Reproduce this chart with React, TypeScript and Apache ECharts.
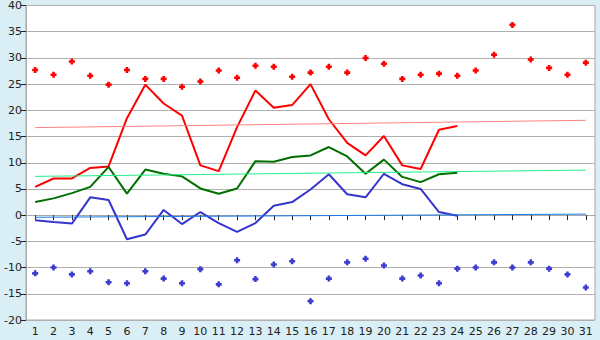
import React, { useEffect, useRef } from "react";
import * as echarts from "echarts";

const days = Array.from({ length: 31 }, (_, i) => String(i + 1));

const maxTemp = [5.4, 7.0, 7.0, 9.0, 9.3, 18.5, 24.9, 21.3, 19.0, 9.5, 8.4, 16.8, 23.8, 20.5, 21.0, 25.0, 18.3, 13.8, 11.4, 15.1, 9.5, 8.8, 16.3, 17.0];
const meanTemp = [2.5, 3.2, 4.2, 5.4, 9.2, 4.1, 8.7, 7.9, 7.4, 5.1, 4.1, 5.1, 10.3, 10.2, 11.1, 11.4, 13.0, 11.2, 7.9, 10.6, 7.3, 6.3, 7.8, 8.1];
const minTemp = [-0.95, -1.3, -1.6, 3.4, 2.9, -4.6, -3.7, 1.0, -1.7, 0.6, -1.5, -3.2, -1.5, 1.8, 2.5, 4.9, 7.8, 4.0, 3.4, 7.9, 5.9, 5.0, 0.6, -0.1];

const recordMax = [27.7, 26.8, 29.3, 26.6, 24.9, 27.7, 26.0, 26.0, 24.5, 25.5, 27.6, 26.2, 28.5, 28.3, 26.4, 27.2, 28.3, 27.2, 30.0, 28.9, 26.0, 26.8, 27.0, 26.6, 27.6, 30.6, 36.3, 29.7, 28.1, 26.8, 29.1];
const recordMin = [-11.1, -10.0, -11.3, -10.7, -12.8, -13.0, -10.7, -12.1, -13.0, -10.3, -13.2, -8.6, -12.2, -9.4, -8.8, -16.4, -12.1, -9.0, -8.3, -9.6, -12.1, -11.5, -13.0, -10.2, -10.0, -9.0, -10.0, -9.0, -10.2, -11.3, -13.8];

const maxTrend = [16.7, 18.1];
const meanTrend = [7.4, 8.6];
const minTrend = [-0.4, 0.2];

const yTicks = { min: -20, max: 40, interval: 5 };

const plus = "path://M2,0H5V2H7V5H5V7H2V5H0V2H2Z";

function trend(vals: number[], color: string) {
  return {
    silent: true,
    symbol: "none",
    label: { show: false },
    lineStyle: { color, width: 1, type: "solid" },
    emphasis: { disabled: true },
    data: [[{ coord: [days[0], vals[0]] }, { coord: [days[days.length - 1], vals[1]] }]],
  };
}

export default function App() {
  const ref = useRef<HTMLDivElement>(null);
  useEffect(() => {
    const chart = echarts.init(ref.current!, null, { renderer: "svg" });
    const font = { fontFamily: "DejaVu Sans", fontSize: 11, color: "#222" };
    chart.setOption({
      animation: false,
      backgroundColor: "#daeef5",
      grid: {
        left: 26,
        right: 5,
        top: 5,
        bottom: 20,
        show: true,
        backgroundColor: "#ffffff",
        borderColor: "#a8a8a8",
        borderWidth: 1,
      },
      xAxis: {
        type: "category",
        data: days,
        boundaryGap: true,
        axisLine: { show: true, lineStyle: { color: "#a8a8a8" } },
        axisTick: { show: true, alignWithLabel: true, length: 5, lineStyle: { color: "#222" } },
        axisLabel: { ...font, margin: 6, interval: 0 },
        splitLine: { show: false },
      },
      yAxis: {
        type: "value",
        min: yTicks.min,
        max: yTicks.max,
        interval: yTicks.interval,
        axisLine: { show: true, lineStyle: { color: "#a8a8a8" } },
        axisTick: { show: true, length: 5, lineStyle: { color: "#222" } },
        axisLabel: { ...font, margin: 4 },
        splitLine: { show: true, lineStyle: { color: "#b0b0b0", width: 1 } },
      },
      series: [
        { type: "line", data: [], markLine: trend(maxTrend, "#ff8080") },
        { type: "line", data: [], markLine: trend(meanTrend, "#22ee88") },
        { type: "line", data: [], markLine: trend(minTrend, "#1a7ae6") },
        {
          type: "line",
          data: maxTemp,
          symbol: "none",
          lineStyle: { color: "#ff0000", width: 2 },
          itemStyle: { color: "#ff0000" },
        },
        {
          type: "line",
          data: meanTemp,
          symbol: "none",
          lineStyle: { color: "#006e00", width: 2 },
          itemStyle: { color: "#006e00" },
        },
        {
          type: "line",
          data: minTemp,
          symbol: "none",
          lineStyle: { color: "#3535cc", width: 2 },
          itemStyle: { color: "#3535cc" },
        },
        {
          type: "scatter",
          data: recordMax,
          symbol: plus,
          symbolSize: 6,
          itemStyle: { color: "#ff0000", opacity: 1 },
        },
        {
          type: "scatter",
          data: recordMin,
          symbol: plus,
          symbolSize: 6,
          itemStyle: { color: "#3c3cd0", opacity: 1 },
        },
      ],
    });
    return () => chart.dispose();
  }, []);
  return <div ref={ref} style={{ width: 600, height: 340, position: "absolute", left: 0, top: 0 }} />;
}
